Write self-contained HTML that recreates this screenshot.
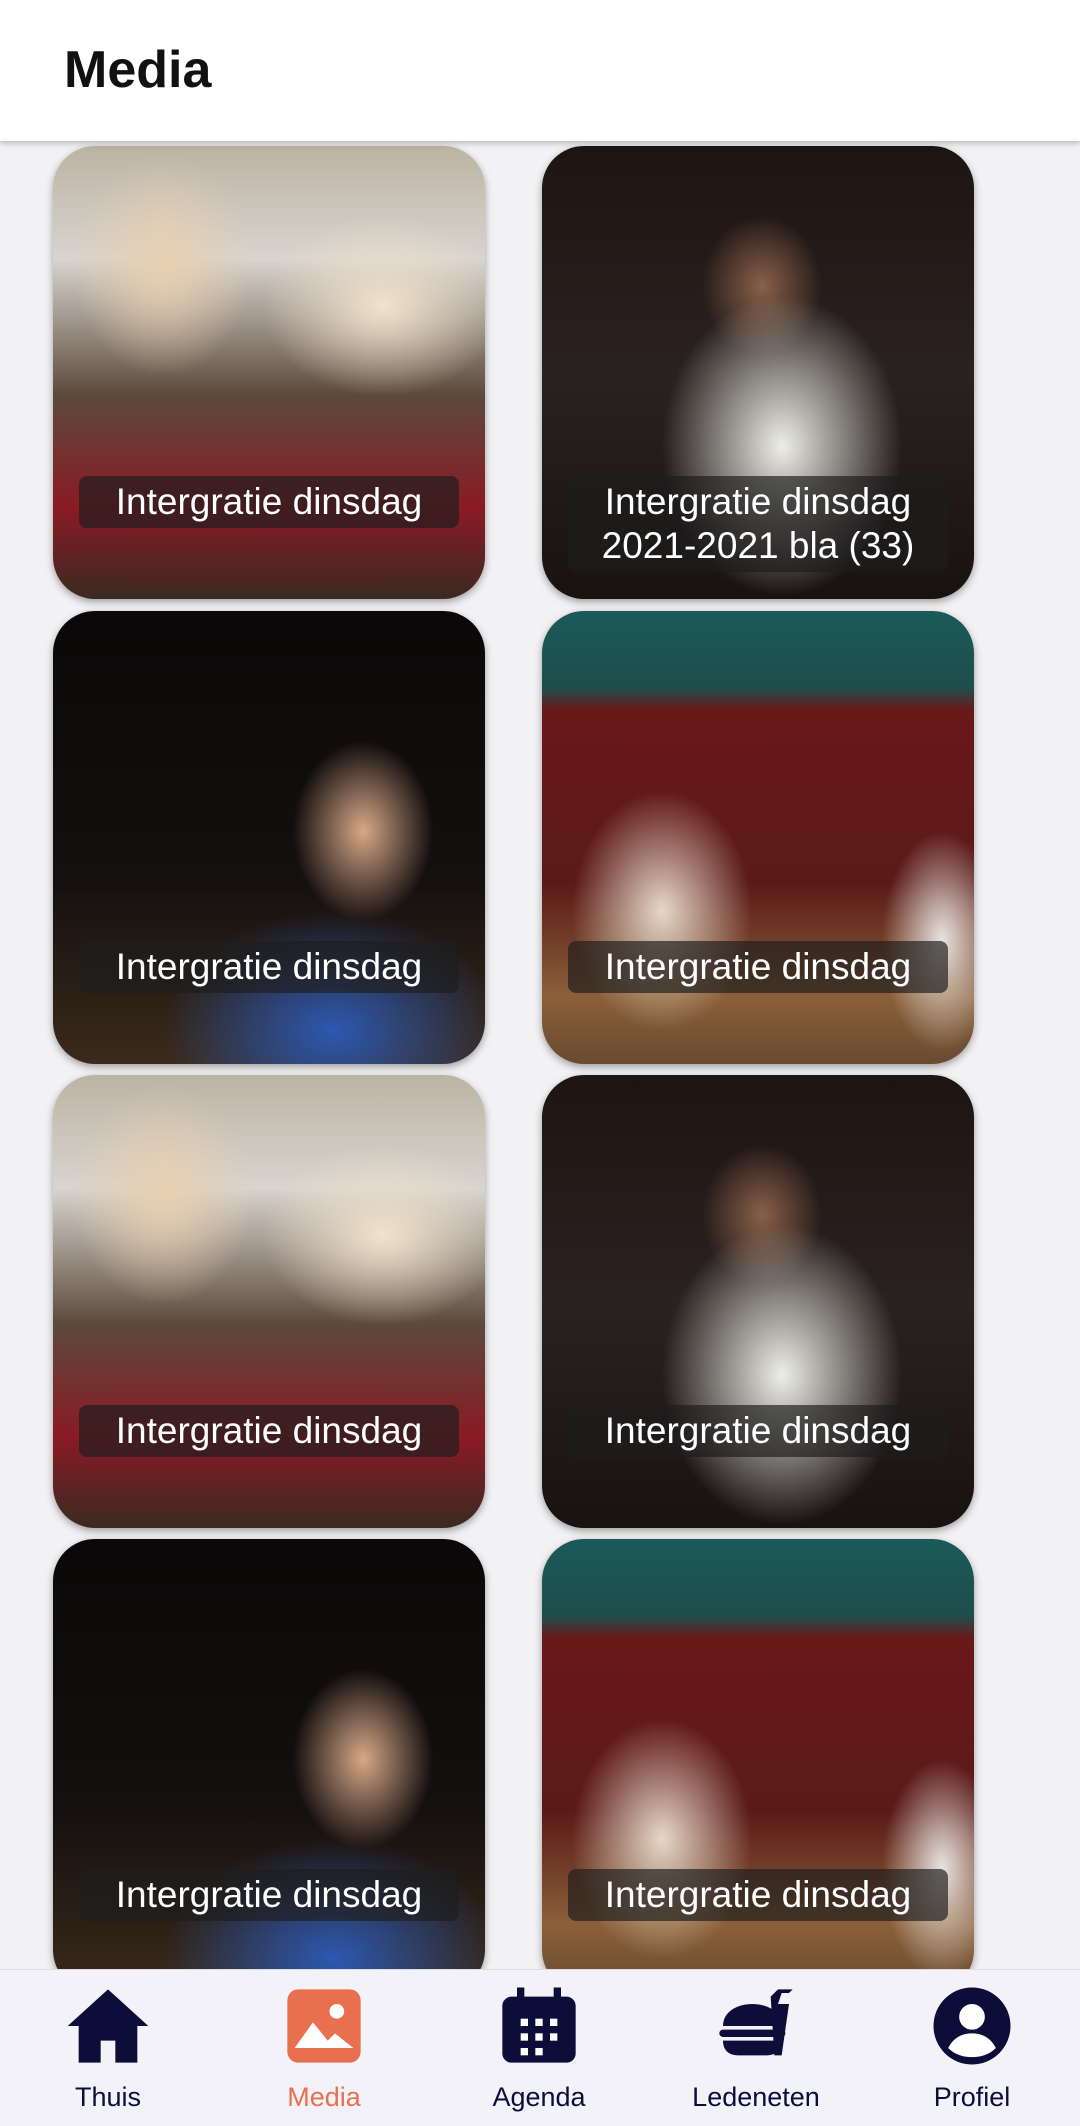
<!DOCTYPE html>
<html><head><meta charset="utf-8"><style>
*{margin:0;padding:0;box-sizing:border-box}
body{width:1080px;height:2125px;overflow:hidden;background:#f2f2f4;font-family:"Liberation Sans",Roboto,sans-serif;position:relative}
.hdr{position:absolute;left:0;top:0;width:1080px;height:141px;background:#fff;box-shadow:0 2px 6px rgba(0,0,0,.25);z-index:3}
.hdr h1{position:absolute;left:64px;top:40px;font-size:52px;font-weight:700;color:#111}
.card{position:absolute;width:432px;height:453px;border-radius:42px;overflow:hidden;box-shadow:0 3px 8px rgba(0,0,0,.35)}
.lbl{position:absolute;left:26px;right:26px;top:330px;background:rgba(30,30,30,.68);border-radius:8px;color:#fff;font-size:37px;text-align:center;line-height:44px;padding:4px 0}
.A{background:radial-gradient(ellipse 90px 110px at 110px 120px,#e8d0b0,transparent),radial-gradient(ellipse 120px 90px at 330px 160px,#f0e2cc,transparent),linear-gradient(180deg,#bcb3a4 0,#d8d4ce 25%,#5c4a3c 55%,#8a1a24 80%,#3a2a22 100%)}
.B{background:radial-gradient(ellipse 120px 150px at 240px 300px,#eeeee8,transparent),radial-gradient(ellipse 60px 70px at 220px 140px,#8a6048,transparent),linear-gradient(180deg,#1e1412,#2a2220 50%,#181210)}
.C{background:radial-gradient(ellipse 70px 90px at 310px 220px,#d8a888,transparent),radial-gradient(ellipse 170px 120px at 280px 420px,#2c58b0,transparent),linear-gradient(180deg,#0a0808,#151010 60%,#3a2a1a)}
.D{background:radial-gradient(ellipse 90px 120px at 120px 300px,#e6d8c8,transparent),radial-gradient(ellipse 60px 110px at 400px 330px,#e8e4e0,transparent),linear-gradient(180deg,#1a5a58 0,#1e4e4c 17%,#6a1818 22%,#5a1a18 60%,#8a6038 85%,#6a4a30)}
.nav{position:absolute;left:0;top:1969px;width:1080px;height:156px;background:#f3f2f8;border-top:1px solid #ddd;z-index:3}
.it{position:absolute;top:0;width:200px;height:156px;margin-left:-100px;text-align:center}
.it svg{position:absolute;left:56px;top:12px;width:88px;height:88px}
.it span{position:absolute;left:0;right:0;top:112px;font-size:27px;color:#0d0d3a}
</style></head><body>
<div class="hdr"><h1>Media</h1></div>

<div class="card A" style="left:53px;top:146px"><div class="lbl">Intergratie dinsdag</div></div>
<div class="card B" style="left:542px;top:146px"><div class="lbl">Intergratie dinsdag<br>2021-2021 bla (33)</div></div>
<div class="card C" style="left:53px;top:611px"><div class="lbl">Intergratie dinsdag</div></div>
<div class="card D" style="left:542px;top:611px"><div class="lbl">Intergratie dinsdag</div></div>
<div class="card A" style="left:53px;top:1075px"><div class="lbl">Intergratie dinsdag</div></div>
<div class="card B" style="left:542px;top:1075px"><div class="lbl">Intergratie dinsdag</div></div>
<div class="card C" style="left:53px;top:1539px"><div class="lbl">Intergratie dinsdag</div></div>
<div class="card D" style="left:542px;top:1539px"><div class="lbl">Intergratie dinsdag</div></div>

<div class="nav">
<div class="it" style="left:108px"><svg viewBox="0 0 24 24"><path d="M12 2L1 12h3v10h6v-6h4v6h6V12h3z" fill="#0d0d3a"/></svg><span>Thuis</span></div>
<div class="it" style="left:324px"><svg viewBox="0 0 24 24"><rect x="2" y="2" width="20" height="20" rx="3" fill="#e8704f"/><circle cx="15.5" cy="8" r="2" fill="#fff"/><path d="M4 18l5-7 4 5 2-2 5 4z" fill="#fff"/></svg><span style="color:#e8704f">Media</span></div>
<div class="it" style="left:539px"><svg viewBox="0 0 24 24"><rect x="2" y="4" width="20" height="18" rx="2.5" fill="#0d0d3a"/><rect x="6" y="1.5" width="2" height="5" fill="#0d0d3a"/><rect x="16" y="1.5" width="2" height="5" fill="#0d0d3a"/><g fill="#fff"><rect x="7" y="10" width="2" height="2"/><rect x="11" y="10" width="2" height="2"/><rect x="15" y="10" width="2" height="2"/><rect x="7" y="14" width="2" height="2"/><rect x="11" y="14" width="2" height="2"/><rect x="15" y="14" width="2" height="2"/><rect x="7" y="18" width="2" height="2"/><rect x="11" y="18" width="2" height="2"/></g></svg><span>Agenda</span></div>
<div class="it" style="left:756px"><svg viewBox="0 0 24 24"><path d="M3 12c0-4 4-6 8-6s8 2 8 6z" fill="#0d0d3a"/><rect x="2" y="13" width="18" height="2" rx="1" fill="#0d0d3a"/><path d="M3 16h16c0 3-2 4-4 4H7c-2 0-4-1-4-4z" fill="#0d0d3a"/><path d="M16 4l2-2h4l-1 1h-2l-1 3h3l-2 14h-2" fill="#0d0d3a"/></svg><span>Ledeneten</span></div>
<div class="it" style="left:972px"><svg viewBox="0 0 24 24"><circle cx="12" cy="12" r="10.5" fill="#0d0d3a"/><circle cx="12" cy="9.5" r="3.5" fill="#fff"/><path d="M5.5 18c1.5-3 4-4 6.5-4s5 1 6.5 4c-1.8 1.8-4 2.5-6.5 2.5S7.3 19.8 5.5 18z" fill="#fff"/></svg><span>Profiel</span></div>
</div>
</body></html>
